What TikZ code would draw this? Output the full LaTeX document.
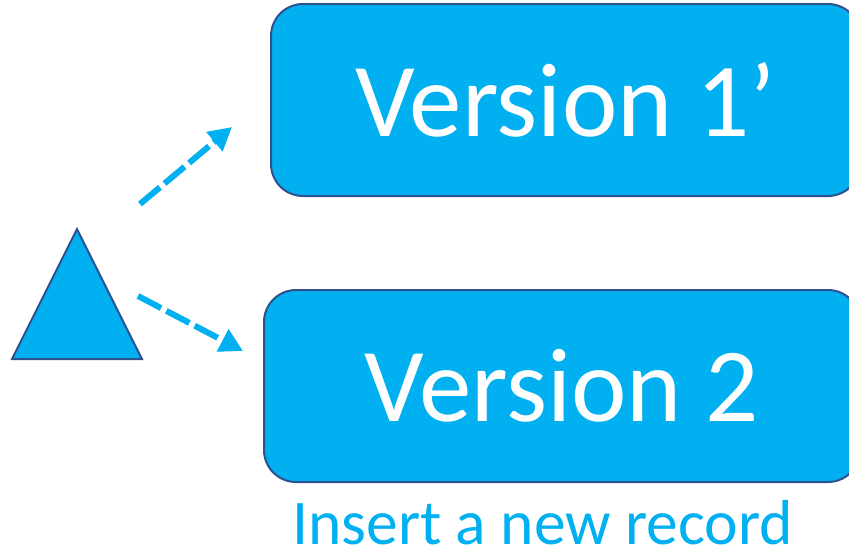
\documentclass[tikz,border=0pt]{standalone}
\usepackage{fontspec}
\setmainfont{Carlito}
\usetikzlibrary{arrows.meta}
\usetikzlibrary{positioning, shapes.geometric}
\definecolor{boxblue}{HTML}{00B0F0}
\definecolor{edgeblue}{HTML}{2F528F}

\begin{document}
\begin{tikzpicture}[x=0.5pt, y=-0.5pt,
	version/.style={rectangle, rounded corners=16pt, draw=edgeblue, line width=1pt, fill=boxblue, text=white, font=\fontsize{52.5}{58}\selectfont, minimum height=96pt, inner sep=0pt},
	link/.style={draw=boxblue, line width=3pt, dash pattern=on 13pt off 3pt, -{Triangle[length=11.5pt, width=12pt]}}]
	\useasboundingbox (0,0) rectangle (849,547);
	\clip (0,0) rectangle (849,547);

	% --- Versions ---
	\node[version, minimum width=294.5pt] (v1) at (565.5, 100) {Version 1’};
	\node[version, minimum width=298pt] (v2) at (562, 386) {Version 2};
	\node[anchor=base, text=boxblue, font=\fontsize{31.8}{35}\selectfont] (note) at (542.5, 544) {Insert a new record};

	% --- Record ---
	\node[isosceles triangle, shape border rotate=90, isosceles triangle stretches, minimum width=65pt, minimum height=65pt, inner sep=0pt, draw=edgeblue, fill=boxblue, line width=1pt] (rec) at (77, 319) {};

	% --- Links ---
	\coordinate (upfrom) at (140, 204);
	\coordinate (upto) at (232, 127);
	\coordinate (downfrom) at (138, 296);
	\coordinate (downto) at (243, 351);
	\draw[link] (upfrom) -- (upto);
	\draw[link] (downfrom) -- (downto);

\end{tikzpicture}
\end{document}
